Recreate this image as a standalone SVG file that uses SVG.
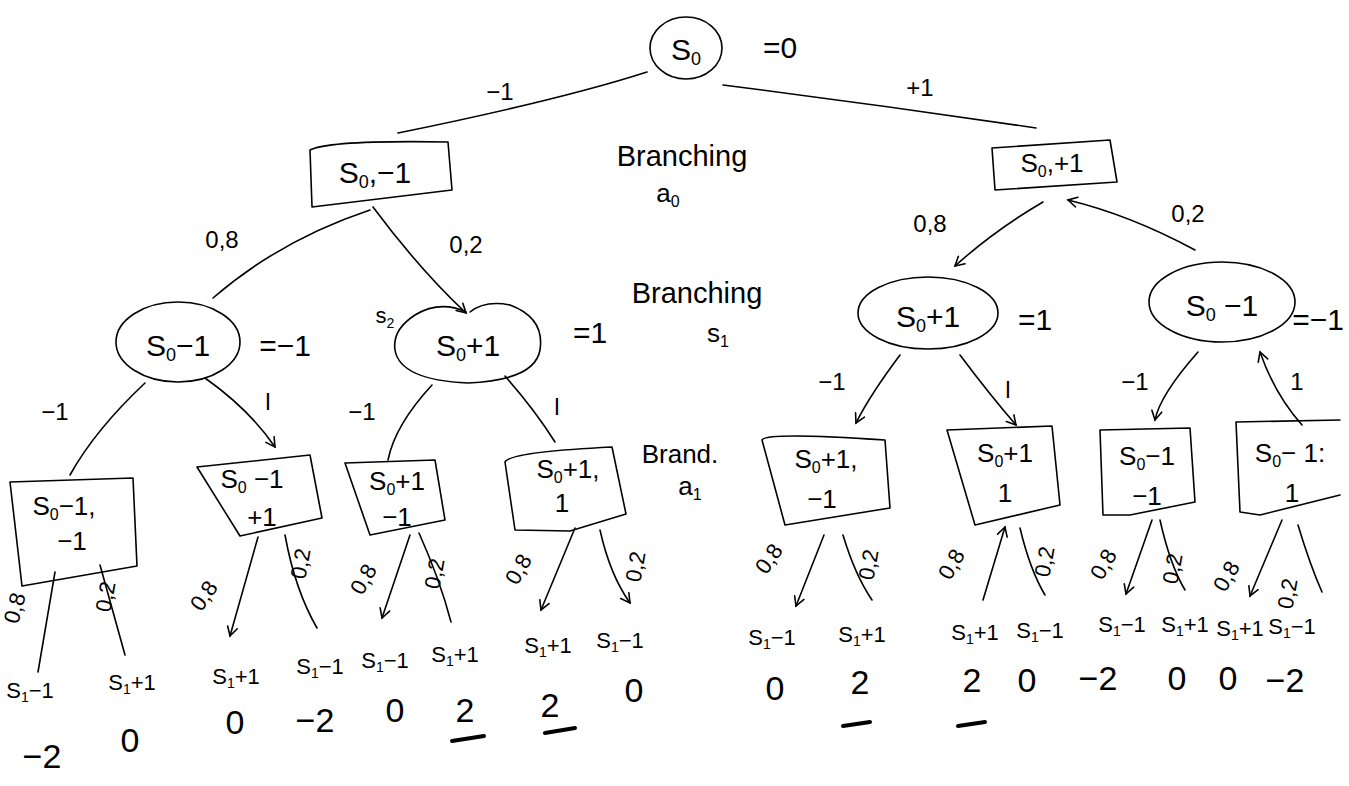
<svg xmlns="http://www.w3.org/2000/svg" width="1349" height="786" viewBox="0 0 1349 786">
<style>
.ln{fill:none;stroke:#000;stroke-width:1.6;stroke-linecap:round;stroke-linejoin:round}
.t{font-family:"Liberation Sans",Arial,sans-serif;fill:#000;text-anchor:middle}
.n{font-size:30px}
.m{font-size:26px}
.b{font-size:29px}
.l{font-size:24px}
.s{font-size:22px}
.v{font-size:34px}
.u{stroke:#000;stroke-width:4;stroke-linecap:round}
</style>
<defs>
<marker id="ar" markerWidth="12" markerHeight="12" refX="10" refY="6" orient="auto" markerUnits="userSpaceOnUse">
<path d="M1,1 L10,6 L1,11" fill="none" stroke="#000" stroke-width="1.6" stroke-linecap="round"/>
</marker>
</defs>
<rect width="1349" height="786" fill="#fff"/>

<g id="connectors" class="ln">
<path d="M647,72 Q560,100 398,133"/>
<path d="M723,85 Q880,105 1036,128"/>
<path d="M370,210 Q280,240 213,298"/>
<path d="M373,207 Q420,270 466,313" marker-end="url(#ar)"/>
<path d="M1043,202 Q995,230 955,266" marker-end="url(#ar)"/>
<path d="M1195,250 Q1130,215 1068,200" marker-end="url(#ar)"/>
<path d="M145,383 Q95,430 70,475"/>
<path d="M205,378 Q250,410 275,447" marker-end="url(#ar)"/>
<path d="M432,385 Q395,425 388,460"/>
<path d="M505,376 Q535,410 555,442"/>
<path d="M900,355 Q870,395 856,423" marker-end="url(#ar)"/>
<path d="M960,355 Q990,395 1016,425" marker-end="url(#ar)"/>
<path d="M1198,352 Q1160,395 1155,420" marker-end="url(#ar)"/>
<path d="M1302,425 Q1275,395 1260,352" marker-end="url(#ar)"/>
<path d="M55,572 L38,672"/>
<path d="M100,565 L125,655"/>
<path d="M258,537 L230,636" marker-end="url(#ar)"/>
<path d="M285,535 Q295,590 317,628"/>
<path d="M410,535 L382,618" marker-end="url(#ar)"/>
<path d="M419,533 Q440,580 451,622"/>
<path d="M575,528 L541,610" marker-end="url(#ar)"/>
<path d="M600,530 Q610,575 630,603" marker-end="url(#ar)"/>
<path d="M824,535 L796,606" marker-end="url(#ar)"/>
<path d="M843,535 Q855,575 872,600"/>
<path d="M983,600 L1005,527" marker-end="url(#ar)"/>
<path d="M1020,528 Q1030,570 1045,595"/>
<path d="M1152,520 L1126,594" marker-end="url(#ar)"/>
<path d="M1160,520 Q1170,565 1185,590"/>
<path d="M1282,520 L1250,596" marker-end="url(#ar)"/>
<path d="M1298,525 Q1310,565 1322,592"/>
</g>

<g id="edge-labels" class="t">
<text x="500" y="100" class="l">−1</text>
<text x="920" y="96" class="l">+1</text>
<text x="222" y="248" class="l">0,8</text>
<text x="466" y="253" class="l">0,2</text>
<text x="930" y="232" class="l">0,8</text>
<text x="1188" y="222" class="l">0,2</text>
<text x="55" y="420" class="l">−1</text>
<text x="268" y="410" class="l">l</text>
<text x="362" y="420" class="l">−1</text>
<text x="557" y="415" class="l">l</text>
<text x="832" y="390" class="l">−1</text>
<text x="1008" y="398" class="l">l</text>
<text x="1135" y="390" class="l">−1</text>
<text x="1297" y="390" class="l">1</text>
<text class="s" transform="translate(22,610) rotate(-75)">0,8</text>
<text class="s" transform="translate(113,598) rotate(-80)">0,2</text>
<text class="s" transform="translate(210,600) rotate(-55)">0,8</text>
<text class="s" transform="translate(308,565) rotate(-80)">0,2</text>
<text class="s" transform="translate(370,583) rotate(-60)">0,8</text>
<text class="s" transform="translate(442,575) rotate(-80)">0,2</text>
<text class="s" transform="translate(525,573) rotate(-60)">0,8</text>
<text class="s" transform="translate(643,568) rotate(-80)">0,2</text>
<text class="s" transform="translate(775,563) rotate(-55)">0,8</text>
<text class="s" transform="translate(876,566) rotate(-80)">0,2</text>
<text class="s" transform="translate(958,568) rotate(-60)">0,8</text>
<text class="s" transform="translate(1052,563) rotate(-80)">0,2</text>
<text class="s" transform="translate(1110,568) rotate(-60)">0,8</text>
<text class="s" transform="translate(1180,570) rotate(-80)">0,2</text>
<text class="s" transform="translate(1233,580) rotate(-60)">0,8</text>
<text class="s" transform="translate(1295,595) rotate(-80)">0,2</text>
</g>

<g id="annotations" class="t">
<text x="682" y="166" class="b">Branching</text>
<text x="668" y="202" class="m">a<tspan font-size="16" dy="5">0</tspan></text>
<text x="697" y="303" class="b">Branching</text>
<text x="718" y="342" class="m">s<tspan font-size="16" dy="5">1</tspan></text>
<text x="680" y="463" class="m">Brand.</text>
<text x="690" y="495" class="m">a<tspan font-size="16" dy="5">1</tspan></text>
<text x="385" y="323" class="s">s<tspan font-size="14" dy="5">2</tspan></text>
</g>

<g id="root" class="t">
<ellipse cx="686" cy="48" rx="36" ry="31" class="ln"/>
<text x="686" y="60" class="n">S<tspan font-size="18" dy="5">0</tspan></text>
<text x="780" y="58" class="n">=0</text>
</g>

<g id="a0-minus" class="t">
<path class="ln" d="M310,150 Q330,140 448,142 L452,190 L312,207 Z"/>
<text x="375" y="183" class="n">S<tspan font-size="18" dy="5">0</tspan><tspan dy="-5">,−1</tspan></text>
</g>

<g id="a0-plus" class="t">
<path class="ln" d="M992,148 L1110,140 L1117,182 L995,190 Z"/>
<text x="1052" y="172" class="m">S<tspan font-size="16" dy="5">0</tspan><tspan dy="-5">,+1</tspan></text>
</g>

<g id="s1-left" class="t">
<ellipse cx="178" cy="342" rx="62" ry="40" class="ln"/>
<text x="178" y="356" class="n">S<tspan font-size="18" dy="5">0</tspan><tspan dy="-5">−1</tspan></text>
<text x="285" y="356" class="n">=−1</text>
</g>

<g id="s1-mid" class="t">
<path class="ln" d="M466,312 Q440,300 415,315 Q392,330 395,350 Q400,380 468,383 Q535,380 540,350 Q545,318 510,305 Q485,300 470,312"/>
<text x="468" y="356" class="n">S<tspan font-size="18" dy="5">0</tspan><tspan dy="-5">+1</tspan></text>
<text x="590" y="343" class="n">=1</text>
</g>

<g id="s1-right" class="t">
<ellipse cx="928" cy="313" rx="70" ry="36" class="ln"/>
<text x="928" y="327" class="n">S<tspan font-size="18" dy="5">0</tspan><tspan dy="-5">+1</tspan></text>
<text x="1035" y="330" class="n">=1</text>
</g>

<g id="s1-far" class="t">
<ellipse cx="1222" cy="302" rx="73" ry="40" class="ln"/>
<text x="1222" y="316" class="n">S<tspan font-size="18" dy="5">0</tspan><tspan dy="-5"> −1</tspan></text>
<text x="1318" y="330" class="n">=−1</text>
</g>

<g id="box-a" class="t">
<path class="ln" d="M10,482 L133,478 L137,566 L22,586 Z"/>
<text x="64" y="515" class="m">S<tspan font-size="16" dy="5">0</tspan><tspan dy="-5">−1,</tspan></text>
<text x="72" y="550" class="m">−1</text>
</g>
<g id="box-b" class="t">
<path class="ln" d="M197,467 L310,455 L322,518 L240,536 Z"/>
<text x="252" y="488" class="m">S<tspan font-size="16" dy="5">0</tspan><tspan dy="-5"> −1</tspan></text>
<text x="262" y="526" class="m">+1</text>
</g>
<g id="box-c" class="t">
<path class="ln" d="M345,463 L435,460 L445,520 L370,535 Z"/>
<text x="397" y="490" class="m">S<tspan font-size="16" dy="5">0</tspan><tspan dy="-5">+1</tspan></text>
<text x="397" y="526" class="m">−1</text>
</g>
<g id="box-d" class="t">
<path class="ln" d="M505,462 Q510,452 612,447 L626,514 L570,531 L515,530 Z"/>
<text x="568" y="478" class="m">S<tspan font-size="16" dy="5">0</tspan><tspan dy="-5">+1,</tspan></text>
<text x="562" y="512" class="m">1</text>
</g>
<g id="box-e" class="t">
<path class="ln" d="M762,440 Q765,432 885,440 L890,508 L785,525 Z"/>
<text x="826" y="468" class="m">S<tspan font-size="16" dy="5">0</tspan><tspan dy="-5">+1,</tspan></text>
<text x="822" y="508" class="m">−1</text>
</g>
<g id="box-f" class="t">
<path class="ln" d="M947,430 L1052,426 L1060,505 L975,525 Z"/>
<text x="1005" y="462" class="m">S<tspan font-size="16" dy="5">0</tspan><tspan dy="-5">+1</tspan></text>
<text x="1005" y="502" class="m">1</text>
</g>
<g id="box-g" class="t">
<path class="ln" d="M1100,430 L1190,428 L1195,502 L1130,515 L1103,515 Z"/>
<text x="1147" y="465" class="m">S<tspan font-size="16" dy="5">0</tspan><tspan dy="-5">−1</tspan></text>
<text x="1147" y="505" class="m">−1</text>
</g>
<g id="box-h" class="t">
<path class="ln" d="M1340,420 L1236,422 L1240,512 L1260,515 L1340,495"/>
<text x="1290" y="462" class="m">S<tspan font-size="16" dy="5">0</tspan><tspan dy="-5">− 1:</tspan></text>
<text x="1292" y="502" class="m">1</text>
</g>

<g id="leaves" class="t">
<text x="30" y="698" class="s">S<tspan font-size="14" dy="4">1</tspan><tspan dy="-4">−1</tspan></text>
<text x="132" y="690" class="s">S<tspan font-size="14" dy="4">1</tspan><tspan dy="-4">+1</tspan></text>
<text x="236" y="684" class="s">S<tspan font-size="14" dy="4">1</tspan><tspan dy="-4">+1</tspan></text>
<text x="320" y="674" class="s">S<tspan font-size="14" dy="4">1</tspan><tspan dy="-4">−1</tspan></text>
<text x="385" y="668" class="s">S<tspan font-size="14" dy="4">1</tspan><tspan dy="-4">−1</tspan></text>
<text x="455" y="662" class="s">S<tspan font-size="14" dy="4">1</tspan><tspan dy="-4">+1</tspan></text>
<text x="548" y="653" class="s">S<tspan font-size="14" dy="4">1</tspan><tspan dy="-4">+1</tspan></text>
<text x="620" y="648" class="s">S<tspan font-size="14" dy="4">1</tspan><tspan dy="-4">−1</tspan></text>
<text x="772" y="645" class="s">S<tspan font-size="14" dy="4">1</tspan><tspan dy="-4">−1</tspan></text>
<text x="862" y="642" class="s">S<tspan font-size="14" dy="4">1</tspan><tspan dy="-4">+1</tspan></text>
<text x="975" y="640" class="s">S<tspan font-size="14" dy="4">1</tspan><tspan dy="-4">+1</tspan></text>
<text x="1040" y="638" class="s">S<tspan font-size="14" dy="4">1</tspan><tspan dy="-4">−1</tspan></text>
<text x="1122" y="632" class="s">S<tspan font-size="14" dy="4">1</tspan><tspan dy="-4">−1</tspan></text>
<text x="1185" y="632" class="s">S<tspan font-size="14" dy="4">1</tspan><tspan dy="-4">+1</tspan></text>
<text x="1240" y="636" class="s">S<tspan font-size="14" dy="4">1</tspan><tspan dy="-4">+1</tspan></text>
<text x="1292" y="634" class="s">S<tspan font-size="14" dy="4">1</tspan><tspan dy="-4">−1</tspan></text>
</g>

<g id="values" class="t">
<text x="42" y="768" class="v">−2</text>
<text x="130" y="752" class="v">0</text>
<text x="235" y="734" class="v">0</text>
<text x="315" y="732" class="v">−2</text>
<text x="395" y="722" class="v">0</text>
<text x="465" y="722" class="v">2</text>
<line class="u" x1="452" y1="741" x2="484" y2="736"/>
<text x="550" y="717" class="v">2</text>
<line class="u" x1="545" y1="733" x2="575" y2="728"/>
<text x="634" y="702" class="v">0</text>
<text x="775" y="700" class="v">0</text>
<text x="860" y="694" class="v">2</text>
<line class="u" x1="843" y1="726" x2="870" y2="722"/>
<text x="972" y="692" class="v">2</text>
<line class="u" x1="958" y1="726" x2="985" y2="722"/>
<text x="1027" y="692" class="v">0</text>
<text x="1098" y="690" class="v">−2</text>
<text x="1177" y="690" class="v">0</text>
<text x="1228" y="690" class="v">0</text>
<text x="1285" y="692" class="v">−2</text>
</g>
</svg>
